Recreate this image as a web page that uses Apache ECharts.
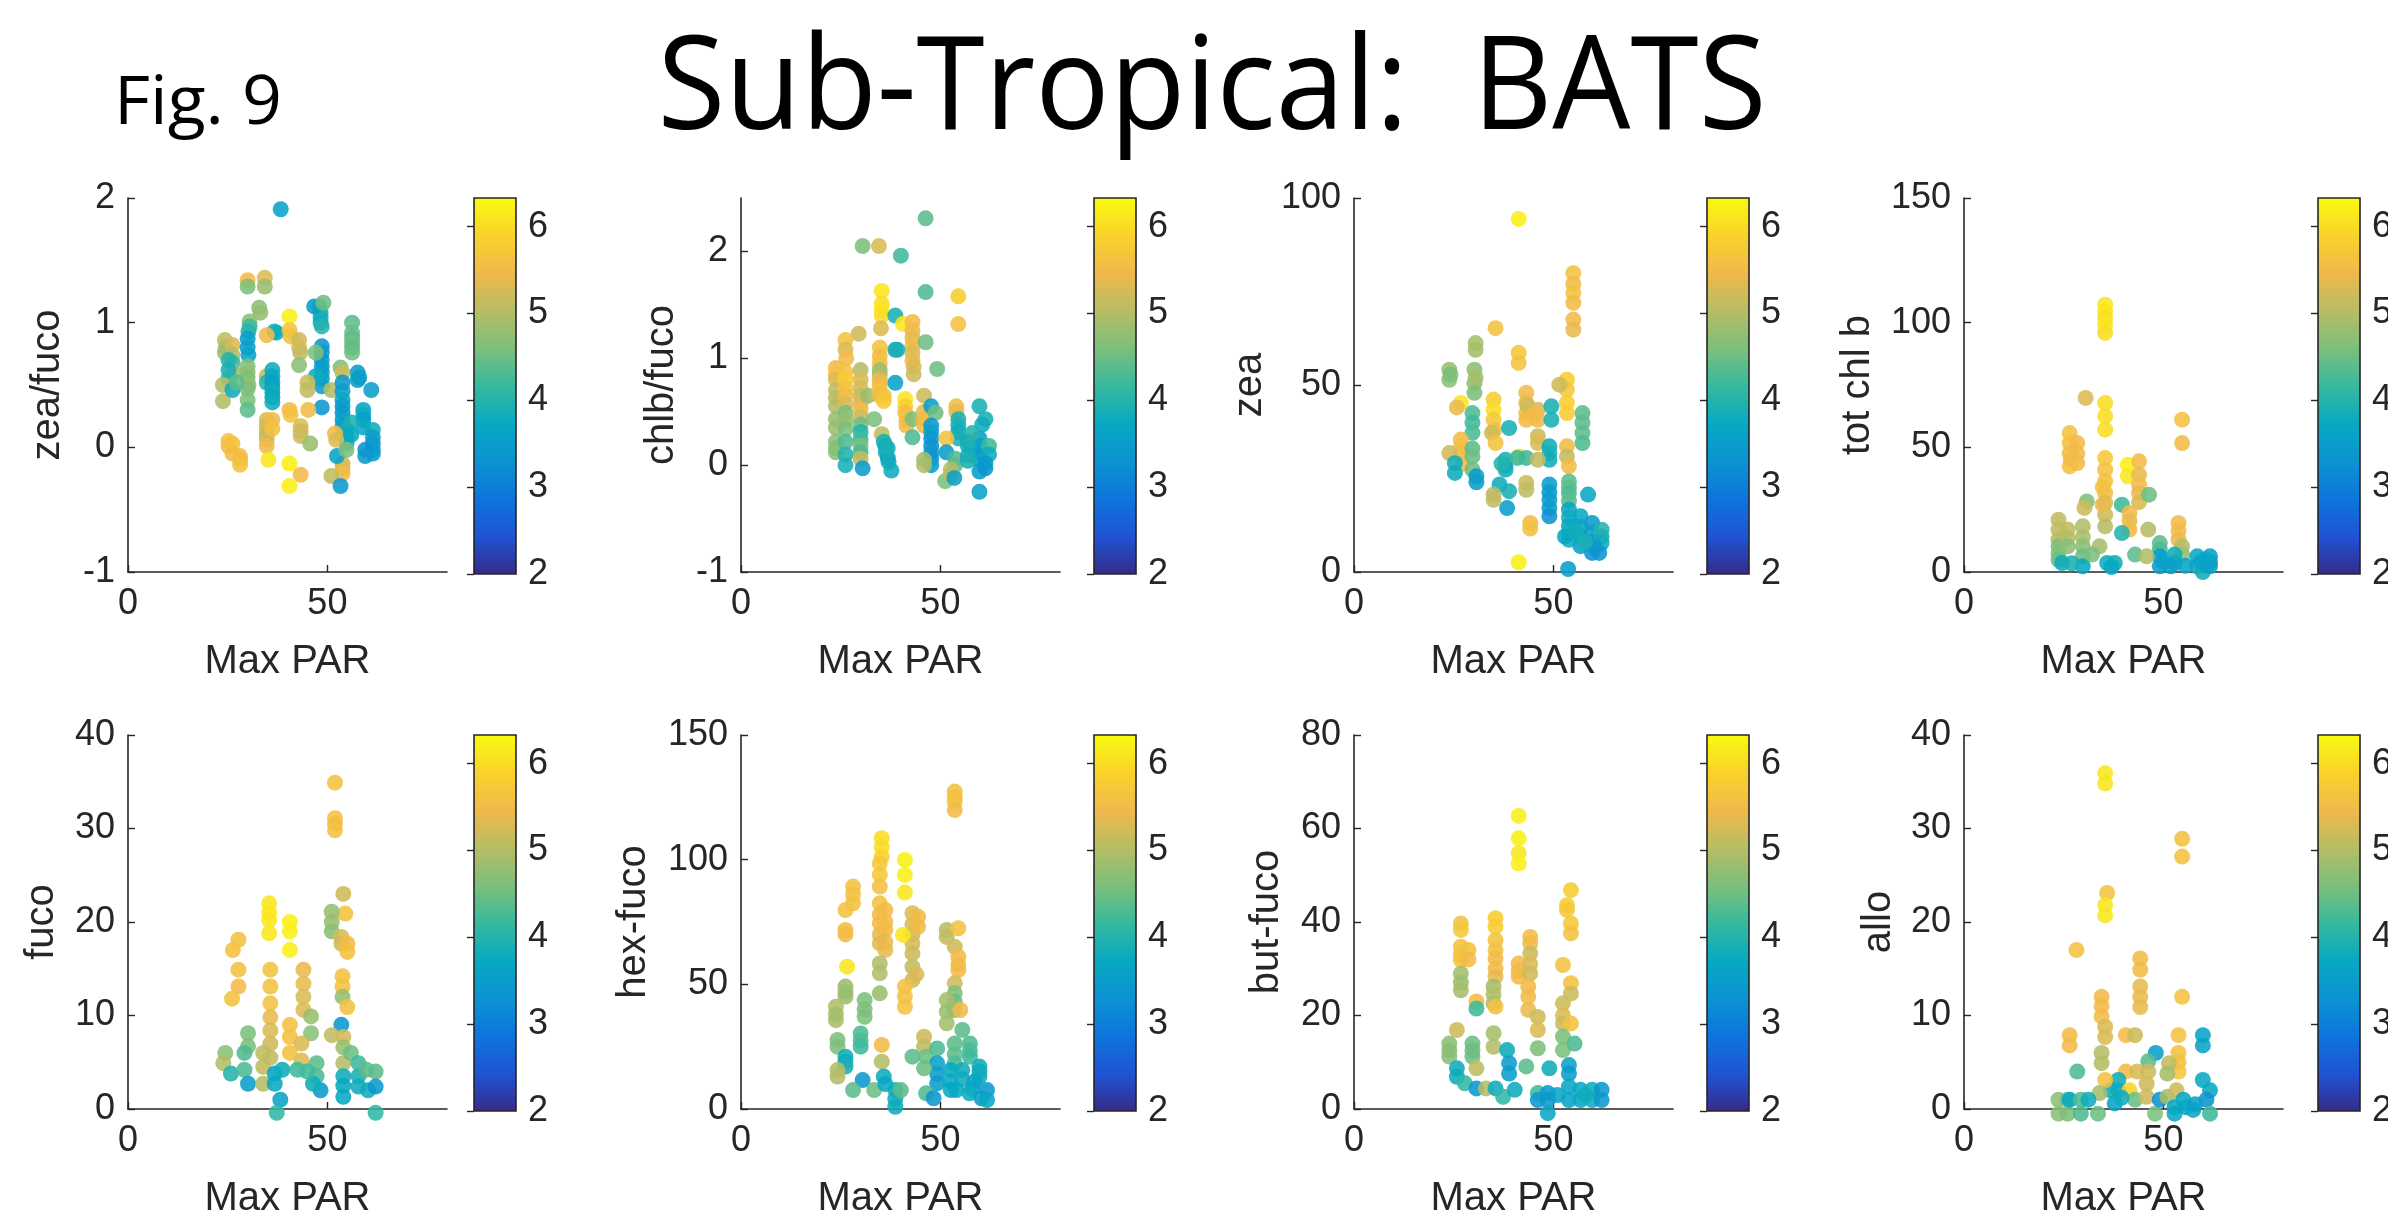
<!DOCTYPE html>
<html>
<head>
<meta charset="utf-8">
<script src="https://cdn.jsdelivr.net/npm/echarts@6/dist/echarts.min.js"></script>
<style>
  html, body { margin: 0; padding: 0; background: #fff; }
  #chart { width: 2388px; height: 1225px; }
</style>
</head>
<body>
<div id="chart"></div>
<script>
// ---- Titles and axis labels ----
const figLabel = 'Fig. 9';
const mainTitle = 'Sub-Tropical:  BATS';
const xAxisLabel = 'Max PAR';
const panelNames = ['zea/fuco', 'chlb/fuco', 'zea', 'tot chl b', 'fuco', 'hex-fuco', 'but-fuco', 'allo'];

// ---- Axis ranges and tick values ----
const xMin = 0, xMax = 80;
const xTickValues = [0, 50];
const yMins = [-1, -1, 0, 0, 0, 0, 0, 0];
const yMaxs = [2, 2.5, 100, 150, 40, 150, 80, 40];
const yTickValues = [
  [-1, 0, 1, 2], [-1, 0, 1, 2], [0, 50, 100], [0, 50, 100, 150],
  [0, 10, 20, 30, 40], [0, 50, 100, 150], [0, 20, 40, 60, 80], [0, 10, 20, 30, 40]
];
const colorMin = 2, colorMax = 6.33;
const colorTickValues = [2, 3, 4, 5, 6];

// parula colour map, sampled at 11 even steps
const parula = ['#352a87', '#2053d4', '#0d75dc', '#0c93d2', '#07a9c2', '#38b99e',
                '#7cbf7b', '#b7bd64', '#f1b94a', '#f9d32a', '#f9fb0e'];

// ---- Samples: [Max PAR, pigment value, colour value] ----
const zeaFuco = [
  [38.3,1.91,3.6],[30,1.34,5.5],[30,1.29,4.6],[34.3,1.36,5.3],[34.3,1.29,4.8],[32.9,1.12,4.7],[33.2,1.08,4.8],
  [40.5,1.05,6.2],[30.5,1.01,4.7],[30.5,0.97,4.2],[30.2,0.93,4.0],[36.7,0.93,3.9],[37.2,0.92,3.8],[34.8,0.90,5.5],
  [40.5,0.94,5.6],[40.8,0.89,5.6],[42.9,0.86,5.2],[42.9,0.80,5.3],[43.2,0.76,5.1],[42.9,0.66,4.7],
  [24.3,0.86,5.1],[24.5,0.80,4.9],[24.3,0.76,4.8],[26.2,0.82,5.3],[26.2,0.74,5.0],[26.2,0.68,4.2],[26.5,0.60,4.8],
  [30,0.87,3.5],[30,0.80,3.5],[30.2,0.74,3.6],[25.2,0.70,4.0],[25.2,0.62,3.9],[25.2,0.55,4.0],
  [30,0.65,4.6],[30,0.60,4.8],[30,0.56,4.6],[30.2,0.50,4.8],[30,0.47,4.6],[23.8,0.50,5.0],[23.8,0.37,5.0],
  [26.2,0.46,3.8],[27.2,0.52,4.4],[30,0.38,4.6],[30,0.30,4.4],[34.8,0.57,5.1],[34.8,0.52,4.0],
  [36.2,0.62,3.8],[36.2,0.57,3.7],[36.2,0.52,3.5],[36.2,0.48,3.7],[36.2,0.44,3.8],[36.2,0.40,3.7],[36.2,0.36,3.8],
  [48,1.13,3.9],[48.3,1.08,3.8],[48.3,1.04,3.9],[48.3,1.00,3.8],[48.6,0.97,4.0],[46.7,1.13,3.5],[49,1.16,4.5],
  [48.6,0.81,3.3],[48.6,0.76,3.4],[48.6,0.70,3.4],[48.6,0.65,3.5],[48.6,0.60,3.5],[48.6,0.55,3.6],[48.6,0.49,3.5],
  [47.1,0.76,4.6],[47.1,0.57,3.8],[45,0.52,5.2],[45,0.46,5.1],[51,0.46,5.0],[48.6,0.32,3.4],[45.2,0.30,5.5],
  [40.5,0.30,5.5],[40.8,0.26,5.6],
  [56.2,1.00,4.4],[56.2,0.92,4.5],[56.2,0.88,4.4],[56.2,0.84,4.5],[56.2,0.80,4.4],[56.2,0.76,4.5],
  [53.3,0.64,4.6],[53.8,0.60,5.2],
  [53.8,0.52,3.4],[53.8,0.45,3.5],[53.8,0.38,3.7],[53.8,0.33,3.5],[53.8,0.28,3.4],[53.8,0.22,3.6],[53.8,0.17,3.5],
  [57.6,0.60,3.5],[58,0.56,3.6],[57.6,0.54,3.5],[61,0.46,3.5],
  [59,0.30,3.6],[59,0.26,3.8],[59,0.22,3.5],[59,0.16,3.7],
  [61.4,0.14,3.8],[61.4,0.08,3.5],[61.4,0.03,3.4],[61.4,-0.02,3.5],[61.4,-0.05,3.5],
  [54.8,0.14,3.8],[54.8,0.08,3.9],[54.8,0.03,3.8],[56,0.20,3.9],[56,0.10,3.7],
  [51.9,0.11,5.5],[52.2,0.06,5.3],[59.5,-0.02,3.3],[59.5,-0.07,3.4],
  [53.8,-0.13,5.2],[53.8,-0.17,5.3],[53.8,-0.21,5.5],[51,-0.23,5.1],[52.4,-0.07,3.6],[53.3,-0.31,3.4],[54.8,-0.02,4.6],
  [34.8,0.22,5.3],[34.8,0.18,5.2],[34.8,0.14,5.3],[34.8,0.10,5.1],[34.8,0.06,5.2],[34.8,0.01,5.5],
  [36.2,0.22,5.5],[36.2,0.15,5.6],[35.2,-0.10,6.1],[40.5,-0.13,6.2],[43.3,-0.22,5.5],[40.5,-0.31,6.2],
  [43.3,0.17,5.3],[43.3,0.13,5.2],[43.3,0.09,5.2],[45.7,0.03,4.8],
  [26.2,0.03,5.6],[26.2,-0.05,5.5],[28.1,-0.07,5.6],[28.1,-0.10,5.5],[28.1,-0.14,5.6],[25.2,0.01,5.5],[25.2,0.05,5.6]
];

const chlbFuco = [
  [46.3,2.31,4.4],[30.5,2.05,4.6],[34.6,2.05,5.3],[40.1,1.96,4.2],[46.3,1.62,4.3],[54.5,1.58,5.8],[54.5,1.32,5.6],
  [35.3,1.63,6.1],[35.3,1.51,6.0],[35.3,1.45,6.1],[35.3,1.40,6.0],[35.1,1.28,5.3],[38.7,1.40,3.9],[40.6,1.32,6.1],
  [43,1.34,5.5],[43,1.26,5.5],[43,1.19,5.4],[43,1.12,5.5],[43,1.05,5.3],[43,0.98,5.4],[43.3,0.92,5.3],[43.3,0.85,5.2],
  [46.3,1.15,4.5],[38.7,1.08,3.8],[39.2,1.08,3.9],[49.2,0.90,4.5],
  [29.5,1.23,5.2],[26.2,1.17,5.6],[26.2,1.08,5.3],[26.4,1.0,5.5],
  [23.8,0.91,5.5],[23.8,0.85,5.6],[23.8,0.80,5.3],[23.8,0.70,5.1],[23.8,0.63,5.0],[23.8,0.55,5.0],[23.8,0.43,4.8],
  [23.8,0.35,4.8],[23.8,0.22,4.7],[23.8,0.16,4.7],[23.8,0.12,4.7],
  [26.2,0.87,5.6],[26.2,0.80,5.8],[26.2,0.72,5.6],[26.2,0.65,5.5],[26.2,0.57,5.3],[26.2,0.49,4.6],[26.2,0.42,4.8],
  [26.2,0.34,4.6],[26.2,0.22,4.3],[26.2,0.10,4.0],[26.2,0.0,3.9],
  [30,0.89,5.0],[30,0.80,5.3],[30,0.72,5.3],[30,0.65,5.1],[30,0.58,5.3],[30,0.52,5.5],[30,0.45,5.2],[30,0.38,4.5],
  [30,0.31,4.0],[30,0.24,4.2],[30,0.18,4.6],[30,0.12,4.3],[30,0.06,5.1],[30.5,-0.03,3.5],
  [31.9,0.65,4.8],[33.4,0.43,4.6],
  [34.8,1.10,5.6],[34.8,1.02,5.5],[34.8,0.95,5.6],[34.8,0.89,4.8],[34.8,0.85,4.9],[34.8,0.80,5.4],[34.8,0.75,5.5],
  [34.8,0.70,5.6],[34.8,0.65,5.5],[35.8,0.65,5.6],[35.8,0.60,5.7],[38.7,0.77,3.6],
  [41.2,0.62,6.1],[41.2,0.55,5.8],[41.2,0.49,5.5],[41.5,0.42,5.6],[41.5,0.37,5.5],
  [43,0.43,4.6],[45.9,0.65,5.2],[45.9,0.50,5.4],[45.9,0.43,5.5],[45.9,0.37,5.5],[43,0.26,4.3],
  [35.3,0.29,5.1],[35.8,0.22,3.9],[36.2,0.18,3.8],[36.3,0.12,3.8],[36.8,0.07,3.7],[37.0,0.03,3.8],[37.7,-0.05,3.8],[36.8,0.16,3.9],
  [47.7,0.55,3.5],[48.8,0.49,4.5],
  [47.7,0.37,3.4],[47.7,0.31,3.6],[47.7,0.25,3.4],[47.7,0.18,3.3],[47.7,0.12,3.4],[47.7,0.06,3.3],[47.7,0.0,3.5],
  [45.9,0.0,5.0],[45.9,0.05,4.9],[54,0.55,5.5],[54,0.50,5.4],
  [54.5,0.43,3.9],[54.5,0.37,3.9],[54.5,0.31,3.8],[54.5,0.25,3.9],
  [51.5,0.25,5.6],[51.5,0.12,3.5],[53.7,0.06,4.3],[53.7,0.0,4.4],
  [51.2,-0.15,4.6],[52.6,-0.09,5.1],[52.6,-0.04,5.0],[53.5,-0.12,3.6],
  [59.8,0.55,3.9],[61.3,0.43,3.9],[60.5,0.38,3.8],
  [59.8,0.25,3.5],[59.8,0.18,3.6],[59.8,0.12,3.5],[59.8,0.05,3.6],[59.8,-0.06,3.5],[59.8,-0.25,3.6],
  [56.9,0.22,3.8],[56.9,0.18,3.9],[56.9,0.09,3.8],[56.9,0.04,3.9],[58,0.30,4.0],
  [62.2,0.18,4.2],[62.2,0.10,3.8],[61.3,-0.03,3.3],[61.3,0.02,3.4]
];

const zea = [
  [41.3,94.4,6.2],[55,79.9,5.6],[55,77,5.5],[55,74.6,5.6],[55,72,5.5],[55,67.5,5.5],[55,64.8,5.4],
  [35.5,65.2,5.6],[30.5,61.2,4.9],[30.5,59.4,4.9],[41.3,58.6,5.7],[41.3,55.9,5.6],
  [23.9,54.1,4.8],[23.9,51.4,4.7],[24.2,52.8,4.6],[30.2,54.1,4.7],[30.2,50.5,4.7],[30.2,47.9,4.6],[30.5,52,4.9],
  [53.4,51.4,5.8],[53.4,48.7,5.7],[53.4,45.2,5.8],[53.4,42.5,5.8],[51.5,50.1,5.2],
  [35,46.1,5.8],[35,43.4,6.0],[35,40.7,5.7],[35.2,38.0,5.6],[26.8,45.2,6.1],[25.8,44,5.4],
  [43.2,47.9,5.5],[43.2,45.2,5.4],[43.2,42.5,5.5],[43.5,44.5,5.2],[46.1,43.4,5.3],[46.1,40.7,5.5],[45.2,42,5.5],
  [49.5,44.3,3.9],[49.5,40.7,3.9],[57.3,42.5,4.4],[57.3,40.0,4.4],[57.3,37.2,4.4],[57.3,34.5,4.3],
  [29.7,42.5,4.3],[29.7,40,4.2],[29.7,37.2,4.3],[26.8,35.4,5.5],[26.8,33.6,5.6],[26.8,31.8,5.5],[27.3,29,5.5],
  [23.9,31.8,5.2],[34.6,37.2,5.2],[35.5,34.5,5.6],[38.9,38.5,3.9],[41.3,30.9,6.1],[43.2,40.7,5.5],
  [46.1,36.3,5.2],[46.1,34.5,5.3],[49,33.6,3.8],[49,31.8,3.9],[49,30.0,3.8],
  [53.4,33.6,5.5],[53.4,30.9,5.1],[53.9,28.3,5.5],[29.7,33,4.4],[29.7,30.9,4.5],[29.7,27.4,4.5],
  [25.3,29.1,3.8],[25.3,26.5,3.8],[38,30,3.9],[38,28.5,3.9],[38,27.4,3.8],[37,29,4.0],
  [43.2,30.5,4.2],[41,30.5,4.2],[46.1,30.0,5.1],[30.7,25.6,3.5],[30.7,24,3.5],[36.5,23.4,3.8],[38.9,21.6,3.9],
  [43.2,23.8,5.2],[43.2,22.0,5.1],[49,23.4,3.5],[49,21.3,3.4],[49,19.3,3.5],[35,20.7,5.0],[35,19.3,5.1],
  [38.4,17.1,3.5],[49,17.1,3.4],[49,14.9,3.3],[53.9,24.2,4.4],[53.9,22.6,4.4],[53.9,21.1,4.3],[53.9,19,4.4],
  [58.7,20.7,3.7],[44.2,13.1,5.5],[44.2,11.6,5.6],
  [53.9,16.7,3.7],[53.9,14.5,3.8],[53.9,12.3,3.7],[53.9,10.5,3.9],[53.9,8.6,3.8],
  [56.8,14.9,3.7],[56.8,12,3.6],[56.8,9.5,3.8],[56.8,6.9,3.6],
  [59.7,13.1,3.4],[59.7,10.5,3.5],[59.7,8,3.4],[59.7,5.1,3.3],
  [62.1,11.3,4.0],[62.1,9.5,3.9],[62.1,7.8,3.8],[61.5,5.1,3.3],[60.5,6.5,3.4],
  [52.9,9.5,3.7],[55.5,11,3.8],[58,8,3.9],[41.3,2.6,6.2],[53.7,0.8,3.5]
];

const totChlB = [
  [35.4,107.2,6.1],[35.4,104.5,6.1],[35.4,101.8,6.0],[35.4,99.1,6.1],[35.4,95.9,6.0],[30.5,69.8,5.3],
  [35.4,67.8,6.0],[35.4,62.5,6.0],[35.4,57.1,6.0],[54.7,61.1,5.6],[54.7,51.7,5.5],
  [26.5,55.7,5.6],[26.5,51.7,5.6],[26.5,47.7,5.5],[26.5,42.4,5.6],[26.8,45,5.5],
  [28.4,51.7,5.5],[28.4,47.5,5.5],[28.4,43.7,5.5],[41.1,43.0,6.2],[41.1,38.4,6.1],
  [43.9,44.4,5.5],[43.9,39,5.4],[43.9,35,5.5],[43.9,31.7,5.4],[43.9,28,5.3],
  [35.4,45.7,5.7],[35.4,41.0,5.6],[35.4,36.4,5.6],[35.4,31.7,5.5],[35.4,27.7,5.3],[35.4,23.0,5.2],[35.4,18.3,5.0],
  [34.8,34,5.6],[34.8,27,5.4],[46.4,31.0,4.5],[30.8,28.3,4.6],[30.2,25.7,5.2],[39.6,27.0,4.2],
  [41.5,23.7,5.5],[41.5,20.5,5.4],[41.5,17.0,5.5],[39.6,15.6,4.0],[46.2,17.0,5.0],
  [23.7,21.0,5.1],[23.7,17,5.1],[23.7,13.0,5.0],[23.7,10.3,4.6],[23.7,7.5,4.6],[23.7,4.9,4.5],
  [26,17,5.1],[26,13.5,5.0],[26,10.3,4.7],[29.8,18.3,5.0],[29.8,14,4.9],[29.8,10.3,4.7],[29.8,6.3,4.5],[29.8,2.3,3.7],
  [34,10.3,4.9],[32.1,7.0,4.6],[35.9,3.6,3.8],[37.8,3.6,3.8],[37,2,3.7],[42.9,7.0,4.4],
  [49.1,11.6,4.4],[49.1,9,4.3],[49.1,6.3,3.5],[49.1,2.3,3.5],[50,4,3.6],
  [53.8,19.7,5.5],[53.8,16.5,5.5],[53.8,13.0,5.4],[54.7,10.3,5.0],[54.7,7,4.8],[52.8,7.0,3.8],[52.8,3.6,3.8],
  [58.5,6.3,3.7],[58.5,2.3,3.7],[59.9,0,3.8],[61.7,6.3,3.5],[61.7,4,3.6],[61.7,2.3,3.5],[60.5,5,3.7],[59.5,4,3.6],
  [45.8,6.3,5.0],[24.6,3.6,3.8],[27,3.5,3.9],[51.9,2.3,3.5],[55.5,2.5,3.6]
];

const fuco = [
  [51.9,34.9,5.6],[51.9,31.1,5.6],[51.9,30.5,5.5],[51.9,29.8,5.6],[54,23.0,5.2],[54.5,20.9,5.6],
  [51.1,21.1,4.8],[51.1,20,4.8],[51.1,19.0,4.7],[53.5,18.4,5.3],[53.5,17.7,5.2],[55,17.7,5.5],[55,16.8,5.6],
  [53.8,14.2,5.6],[53.8,13.1,5.6],[53.8,12.0,4.8],[55,10.9,5.6],[53.5,9.0,3.4],[51.1,7.9,5.1],
  [54,7.7,5.2],[54,6.6,4.8],[54,4.9,5.0],[54,3.5,3.8],[54,2.5,3.7],[54,1.3,3.7],[55.9,6.0,4.5],
  [57.8,4.9,4.2],[57.8,3.5,3.9],[57.8,2.4,3.8],[59.8,4.2,4.4],[60.2,2.0,3.8],[62.1,4.0,4.4],[62.1,2.4,3.4],[62.1,-0.4,4.1],
  [35.4,22.0,6.1],[35.4,21,6.1],[35.4,20.2,6.1],[35.4,18.8,6.1],[40.6,20.0,6.2],[40.6,19,6.2],[40.6,17.0,6.2],
  [27.7,18.1,5.6],[26.3,17.0,5.6],[27.7,14.9,5.6],[27.7,13.1,5.5],[26.1,11.8,5.6],
  [35.7,14.9,5.6],[35.7,13.1,5.6],[35.7,11.3,5.6],[35.7,9.8,5.4],[35.7,8.4,5.3],[35.7,7,5.2],[35.7,5.5,5.1],
  [44,14.9,5.4],[44,13.4,5.4],[44,12.0,5.3],[44,10.6,5.3],[45.9,9.9,4.8],[45.9,8.1,4.7],
  [40.6,9.0,5.6],[40.6,7.7,5.6],[40.6,6.0,5.6],[43.5,7.0,5.3],[43.5,5.2,5.3],
  [30.1,8.1,4.6],[30.1,6.7,4.6],[24.4,6.0,4.7],[23.9,4.9,5.0],[25.8,3.8,4.0],[29.2,6.0,4.3],[29.2,4.2,4.3],
  [30.1,2.7,3.5],[33.9,6.0,5.1],[33.9,4.5,5.1],[33.9,2.7,5.0],[36.8,3.8,3.6],[36.8,2.7,3.7],[38.7,4.2,3.8],
  [38.2,1.0,3.6],[37.3,-0.4,4.1],[42.5,4.2,4.2],[47.3,4.9,4.4],[47.3,3.5,4.3],[48.3,2.0,3.4],[46.4,2.7,3.8],[45,4,4.2]
];

const hexFuco = [
  [53.6,127.3,5.6],[53.6,125,5.6],[53.6,123.3,5.6],[53.6,119.9,5.5],
  [35.3,108.6,6.0],[35.3,105,6.0],[35.3,101.2,5.9],[34.8,98.5,5.7],[34.8,94,5.7],[34.8,89.2,5.6],
  [41.1,99.9,6.2],[41.1,93.9,6.2],[41.1,86.8,6.1],[28.1,89.2,5.6],[28.1,86,5.6],[28.1,82.5,5.6],
  [26.2,79.8,5.6],[26.2,71.8,5.5],[26.2,70,5.5],
  [34.8,82.5,5.6],[34.8,78,5.5],[34.8,74.5,5.5],[34.8,70,5.4],[34.8,66.4,5.3],
  [36.2,79.8,5.5],[36.2,75,5.5],[36.2,71.8,5.5],[36.2,67,5.4],[36.2,63.8,5.4],
  [43,78.5,5.3],[43,74,5.3],[43,70,5.2],[43,66.4,5.3],[44.4,77.1,5.5],[44.4,73.1,5.5],[40.6,69.8,6.1],
  [51.6,71.8,5.0],[51.6,69,5.1],[54.5,72.5,5.6],[53.6,65.1,5.2],[54.5,61.1,5.5],[54.5,58,5.5],[54.5,55.7,5.5],
  [43,62.4,5.2],[43,57,5.1],[43,51.7,5.2],[44,54,5.3],[34.8,58.4,5.0],[34.8,54.4,5.0],[26.6,57.1,6.1],
  [41.1,49.1,5.6],[41.1,45.1,5.6],[41.1,41.0,5.6],[34.8,46.4,4.8],[53.6,50.4,5.2],
  [26.2,49.1,4.8],[26.2,47,4.8],[26.2,45.1,4.8],[31,43.7,4.6],[31,40,4.6],[31,37.0,4.6],
  [53.6,46.4,4.6],[53.6,43,4.5],[53.6,39.7,4.6],[51.6,43.7,4.9],[51.6,39,4.8],[51.6,34.4,4.9],
  [23.8,41.0,5.0],[23.8,38,4.9],[23.8,35.7,4.9],[55,39.7,5.5],[55.5,31.7,4.4],
  [30,30.3,4.3],[30,27.5,4.3],[30,25.0,4.2],[24.2,27.7,4.6],[24.2,25.0,4.6],[35.3,25.7,5.5],
  [45.9,29.0,5.2],[45.9,25,5.1],[46.4,21.0,4.5],[49.2,24.3,4.3],
  [53.6,26.3,4.4],[53.6,22,4.4],[53.6,18.3,4.3],[57.4,26.3,4.3],[57.4,23.5,4.3],[57.4,21.0,4.2],[43,21.0,4.4],
  [26.2,21.0,3.8],[26.2,19,3.8],[26.2,17.0,3.9],[24.2,15.6,5.0],[24.2,13.0,5.0],[35.3,19.0,5.0],
  [49.2,18.3,3.6],[49.2,14,3.5],[49.2,10.3,3.5],[45.9,16.3,4.5],[52.6,15.6,3.7],[52.6,11,3.7],[52.6,7.6,3.7],
  [55.5,15.6,3.8],[55.5,12,3.8],[59.8,17.0,3.8],[59.8,15,3.8],[59.8,13.0,3.8],[58.5,11,3.7],[58,8,3.6],
  [30.5,11.6,3.4],[28.1,7.6,4.4],[33.4,7.6,4.5],[35.8,13.0,3.8],[36.2,10,3.7],
  [38.7,7.6,3.8],[38.7,4,3.8],[38.7,0.9,3.8],[40.1,7.6,4.4],[46.4,6.3,4.3],[48.3,4.3,3.4],
  [57.3,6.3,3.8],[60.3,4.3,3.5],[61.7,7.6,3.4],[61.7,3.6,3.7],[54,7.6,3.7]
];

const butFuco = [
  [41.3,62.7,6.2],[41.3,57.9,6.2],[41.3,54.7,6.1],[41.3,52.5,6.2],[54.4,46.8,5.8],[53.4,43.6,5.8],[53.4,42.6,5.7],
  [54.4,39.7,5.7],[54.4,37.6,5.6],[26.8,39.7,5.6],[26.8,38.3,5.7],[35.5,40.8,5.8],[35.5,39.0,5.8],
  [35.5,36.1,5.6],[35.5,34,5.6],[35.5,32.2,5.5],[35.5,30,5.5],[35.5,28.3,5.4],[44.2,36.8,5.5],[44.2,35.4,5.5],
  [26.8,34.7,5.6],[26.8,33,5.6],[26.8,31.9,5.6],[28.7,34.0,5.6],[28.7,32,5.5],
  [41.3,31.1,5.5],[41.3,29.5,5.5],[41.3,28.3,5.5],[44.2,33.3,5.2],[44.2,31,5.3],[44.2,29.0,5.2],[52.4,30.8,5.6],
  [54.4,26.9,5.6],[54.4,24.7,5.2],[26.8,29.0,4.9],[26.8,27,4.8],[26.8,25.4,4.9],
  [35,26.2,4.9],[35,24.5,5.0],[35,22.6,4.9],[43.7,26.2,5.5],[43.7,24,5.5],[43.7,21.2,5.4],[35.5,21.9,5.6],
  [30.7,23.0,5.5],[30.7,21.5,4.2],[52.4,22.6,5.2],[52.4,20,5.3],[52.4,18.3,5.2],[54.4,18.3,5.6],
  [46.1,19.7,5.2],[46.1,16.9,5.3],[25.8,16.9,5.2],[35,16.2,4.9],
  [23.9,14.0,4.7],[23.9,12.5,4.7],[23.9,11.2,4.7],[29.7,14.0,4.5],[29.7,12.5,4.5],[29.7,11.2,4.5],
  [35,13.3,5.0],[38.4,12.6,3.8],[46.1,13.0,4.6],[52.4,15.5,4.6],[52.4,12.6,4.6],[55.3,14.0,4.3],
  [30.7,8.7,5.1],[25.8,8.7,3.8],[25.8,6.9,3.8],[27.8,5.5,4.1],[38.9,9.8,3.5],[38.9,7.6,3.5],[43.2,9.1,4.4],
  [49,8.7,3.8],[53.9,9.4,3.6],[53.9,7.6,3.5],[30.7,4.4,3.4],[33.1,4.4,5.0],[35.5,4.4,3.8],[37.4,2.6,4.1],
  [40.3,4.1,3.8],[46.1,3.4,4.2],[48.6,3.4,3.4],[48.6,1.9,3.4],[48.6,-0.9,3.7],[53.9,4.8,3.7],[53.9,1.9,3.6],
  [56.8,4.1,3.7],[56.8,1.9,3.7],[59.7,4.1,3.8],[59.7,1.9,3.8],[62.1,4.1,3.4],[62.1,1.9,3.4],
  [46.1,1.9,3.4],[51,3,3.6],[58,3,3.8]
];

const allo = [
  [35.4,35.9,6.1],[35.4,34.8,6.1],[54.7,28.9,5.6],[54.7,27.0,5.6],[35.9,23.1,5.6],[35.4,21.8,6.1],[35.4,20.7,6.1],
  [28.2,17.0,5.6],[44.2,16.1,5.5],[44.2,14.9,5.5],[44.2,13.1,5.4],[44.2,12,5.4],[44.2,10.9,5.4],[54.7,12.0,5.6],
  [34.5,12.0,5.5],[34.5,11,5.5],[34.5,9.9,5.5],[35.4,8.8,5.3],[35.4,7.7,5.3],[26.5,7.9,5.5],[26.5,6.8,5.5],
  [40.6,7.9,5.5],[42.9,7.9,5.2],[34.5,6.0,5.0],[34.5,4.9,5.0],[28.4,4.0,4.3],[48.1,6.0,3.5],[46.2,5.1,4.4],
  [53.8,7.9,5.6],[53.8,6.0,5.6],[53.8,4.0,5.7],[53.8,5,5.6],[51.4,4.9,5.1],[59.9,7.9,3.6],[59.9,6.8,3.6],
  [40.6,4.0,5.5],[43.4,4.0,5.3],[46.2,4.0,5.2],[38.7,3.1,3.8],[38.7,2.0,3.8],[36.8,2.0,3.8],[35.4,3.1,5.6],
  [34,1.7,4.9],[41.5,2.0,5.9],[42.9,1.0,4.5],[45.8,2.7,5.2],[45.8,1.3,5.2],[47.9,-0.5,4.6],[49.1,1.0,3.3],
  [51,3.8,4.9],[51,1.3,4.9],[53.3,2.0,5.2],[52.8,0.2,3.7],[52.8,-0.5,3.7],[55.6,0.2,3.7],[57.5,-0.1,3.7],
  [59.9,3.1,3.7],[61.7,2.0,3.7],[60.8,1.0,3.3],[61.7,-0.5,4.2],
  [23.7,1.0,4.7],[23.7,-0.5,4.7],[26,1.0,4.6],[26,-0.5,4.6],[26.5,1.0,3.7],[29.3,1.0,4.3],[29.3,-0.5,4.3],
  [31.2,1.0,3.8],[33.6,-0.5,4.5],[37.8,0.6,3.6],[39.5,1.2,3.8],[55,1,3.7],[58,0.5,3.6]
];

const panelData = [zeaFuco, chlbFuco, zea, totChlB, fuco, hexFuco, butFuco, allo];

// ---- Layout (pixels) ----
const plotLefts = [128, 741, 1354, 1964];
const plotWidth = 319;
const rowTops = [198, 735];
const plotHeight = 374;
const cbarLefts = [474, 1094, 1707, 2318];
const cbarWidth = 42;
const cbarHeight = 376;
// distance from the y axis line to the centre of each rotated y-axis title
const yNameOffsets = [80, 79, 104, 106, 86, 107, 87, 85];

const ink = '#262626';
const tickFont = 'Liberation Sans';

const chart = echarts.init(document.getElementById('chart'), null, { renderer: 'canvas' });

const grids = [], xAxes = [], yAxes = [], series = [], graphics = [];

// scatter panels
for (let i = 0; i < 8; i++) {
  const col = i % 4, row = Math.floor(i / 4);
  grids.push({ left: plotLefts[col], top: rowTops[row], width: plotWidth, height: plotHeight,
               outerBoundsMode: 'none', containLabel: false });
  xAxes.push({
    gridIndex: i, type: 'value', min: xMin, max: xMax,
    name: xAxisLabel, nameLocation: 'middle', nameGap: 70, nameMoveOverlap: false,
    nameTextStyle: { fontSize: 40, color: ink, fontFamily: tickFont },
    axisLine: { show: true, onZero: false, lineStyle: { color: ink, width: 1.6 } },
    axisTick: { show: true, inside: true, length: 7, customValues: xTickValues, lineStyle: { color: ink, width: 1.4 } },
    axisLabel: { fontSize: 36, color: ink, fontFamily: tickFont, margin: 14, customValues: xTickValues },
    splitLine: { show: false }
  });
  yAxes.push({
    gridIndex: i, type: 'value', min: yMins[i], max: yMaxs[i],
    axisLine: { show: true, onZero: false, lineStyle: { color: ink, width: 1.6 } },
    axisTick: { show: true, inside: true, length: 7, customValues: yTickValues[i], lineStyle: { color: ink, width: 1.4 } },
    axisLabel: { fontSize: 36, color: ink, fontFamily: tickFont, margin: 13, customValues: yTickValues[i] },
    splitLine: { show: false }
  });
  // rotated y-axis title
  graphics.push({
    type: 'text', x: plotLefts[col] - yNameOffsets[i], y: rowTops[row] + plotHeight / 2, rotation: Math.PI / 2,
    style: { text: panelNames[i], font: '40px "Liberation Sans"', fill: ink, textAlign: 'center', textVerticalAlign: 'middle' }
  });
  series.push({
    type: 'scatter', xAxisIndex: i, yAxisIndex: i, data: panelData[i],
    symbol: 'circle', symbolSize: 16, clip: false,
    itemStyle: { opacity: 0.88 },
    emphasis: { disabled: true }
  });
}

// colour bars
const gradientStops = parula.map((c, k) => ({ offset: k / (parula.length - 1), color: c }));
for (let i = 0; i < 8; i++) {
  const col = i % 4, row = Math.floor(i / 4);
  const gi = 8 + i;
  grids.push({ left: cbarLefts[col], top: rowTops[row], width: cbarWidth, height: cbarHeight,
               outerBoundsMode: 'none', containLabel: false });
  xAxes.push({ gridIndex: gi, type: 'value', min: 0, max: 1, show: false });
  yAxes.push({
    gridIndex: gi, type: 'value', position: 'right', min: colorMin, max: colorMax,
    z: 10,
    axisLine: { show: false },
    axisTick: { show: true, inside: true, length: 7, customValues: colorTickValues, lineStyle: { color: ink, width: 1.4 } },
    axisLabel: { fontSize: 36, color: ink, fontFamily: tickFont, margin: 12, customValues: colorTickValues },
    splitLine: { show: false }
  });
  series.push({
    type: 'custom', xAxisIndex: gi, yAxisIndex: gi, silent: true, clip: false,
    data: [[0, colorMin, colorMax]],
    renderItem: function (params, api) {
      const top = api.coord([0, api.value(2)]);
      const bottom = api.coord([1, api.value(1)]);
      return {
        type: 'rect',
        shape: { x: top[0], y: top[1], width: bottom[0] - top[0], height: bottom[1] - top[1] },
        style: {
          fill: new echarts.graphic.LinearGradient(0, 1, 0, 0, gradientStops),
          stroke: ink, lineWidth: 1.6
        }
      };
    }
  });
}

// heading texts, stretched to their measured widths
function widthScale(text, font, target) {
  const ctx = document.createElement('canvas').getContext('2d');
  ctx.font = font;
  return target / ctx.measureText(text).width;
}
const titleFont = '130px "Open Sans"';
const figFont = '68px "Open Sans"';

graphics.push(
  { type: 'text', x: 1212, y: 92, scaleX: widthScale(mainTitle, titleFont, 1109),
    style: { text: mainTitle, font: titleFont, fill: '#000', textAlign: 'center', textVerticalAlign: 'middle' } },
  { type: 'text', x: 114, y: 105, scaleX: widthScale(figLabel, figFont, 168),
    style: { text: figLabel, font: figFont, fill: '#000', textAlign: 'left', textVerticalAlign: 'middle' } }
);

const option = {
  backgroundColor: '#ffffff',
  animation: false,
  grid: grids,
  xAxis: xAxes,
  yAxis: yAxes,
  visualMap: {
    type: 'continuous', show: false, min: colorMin, max: colorMax, dimension: 2,
    seriesIndex: [0, 1, 2, 3, 4, 5, 6, 7],
    inRange: { color: parula }
  },
  graphic: graphics,
  series: series
};

chart.setOption(option);
</script>
</body>
</html>
